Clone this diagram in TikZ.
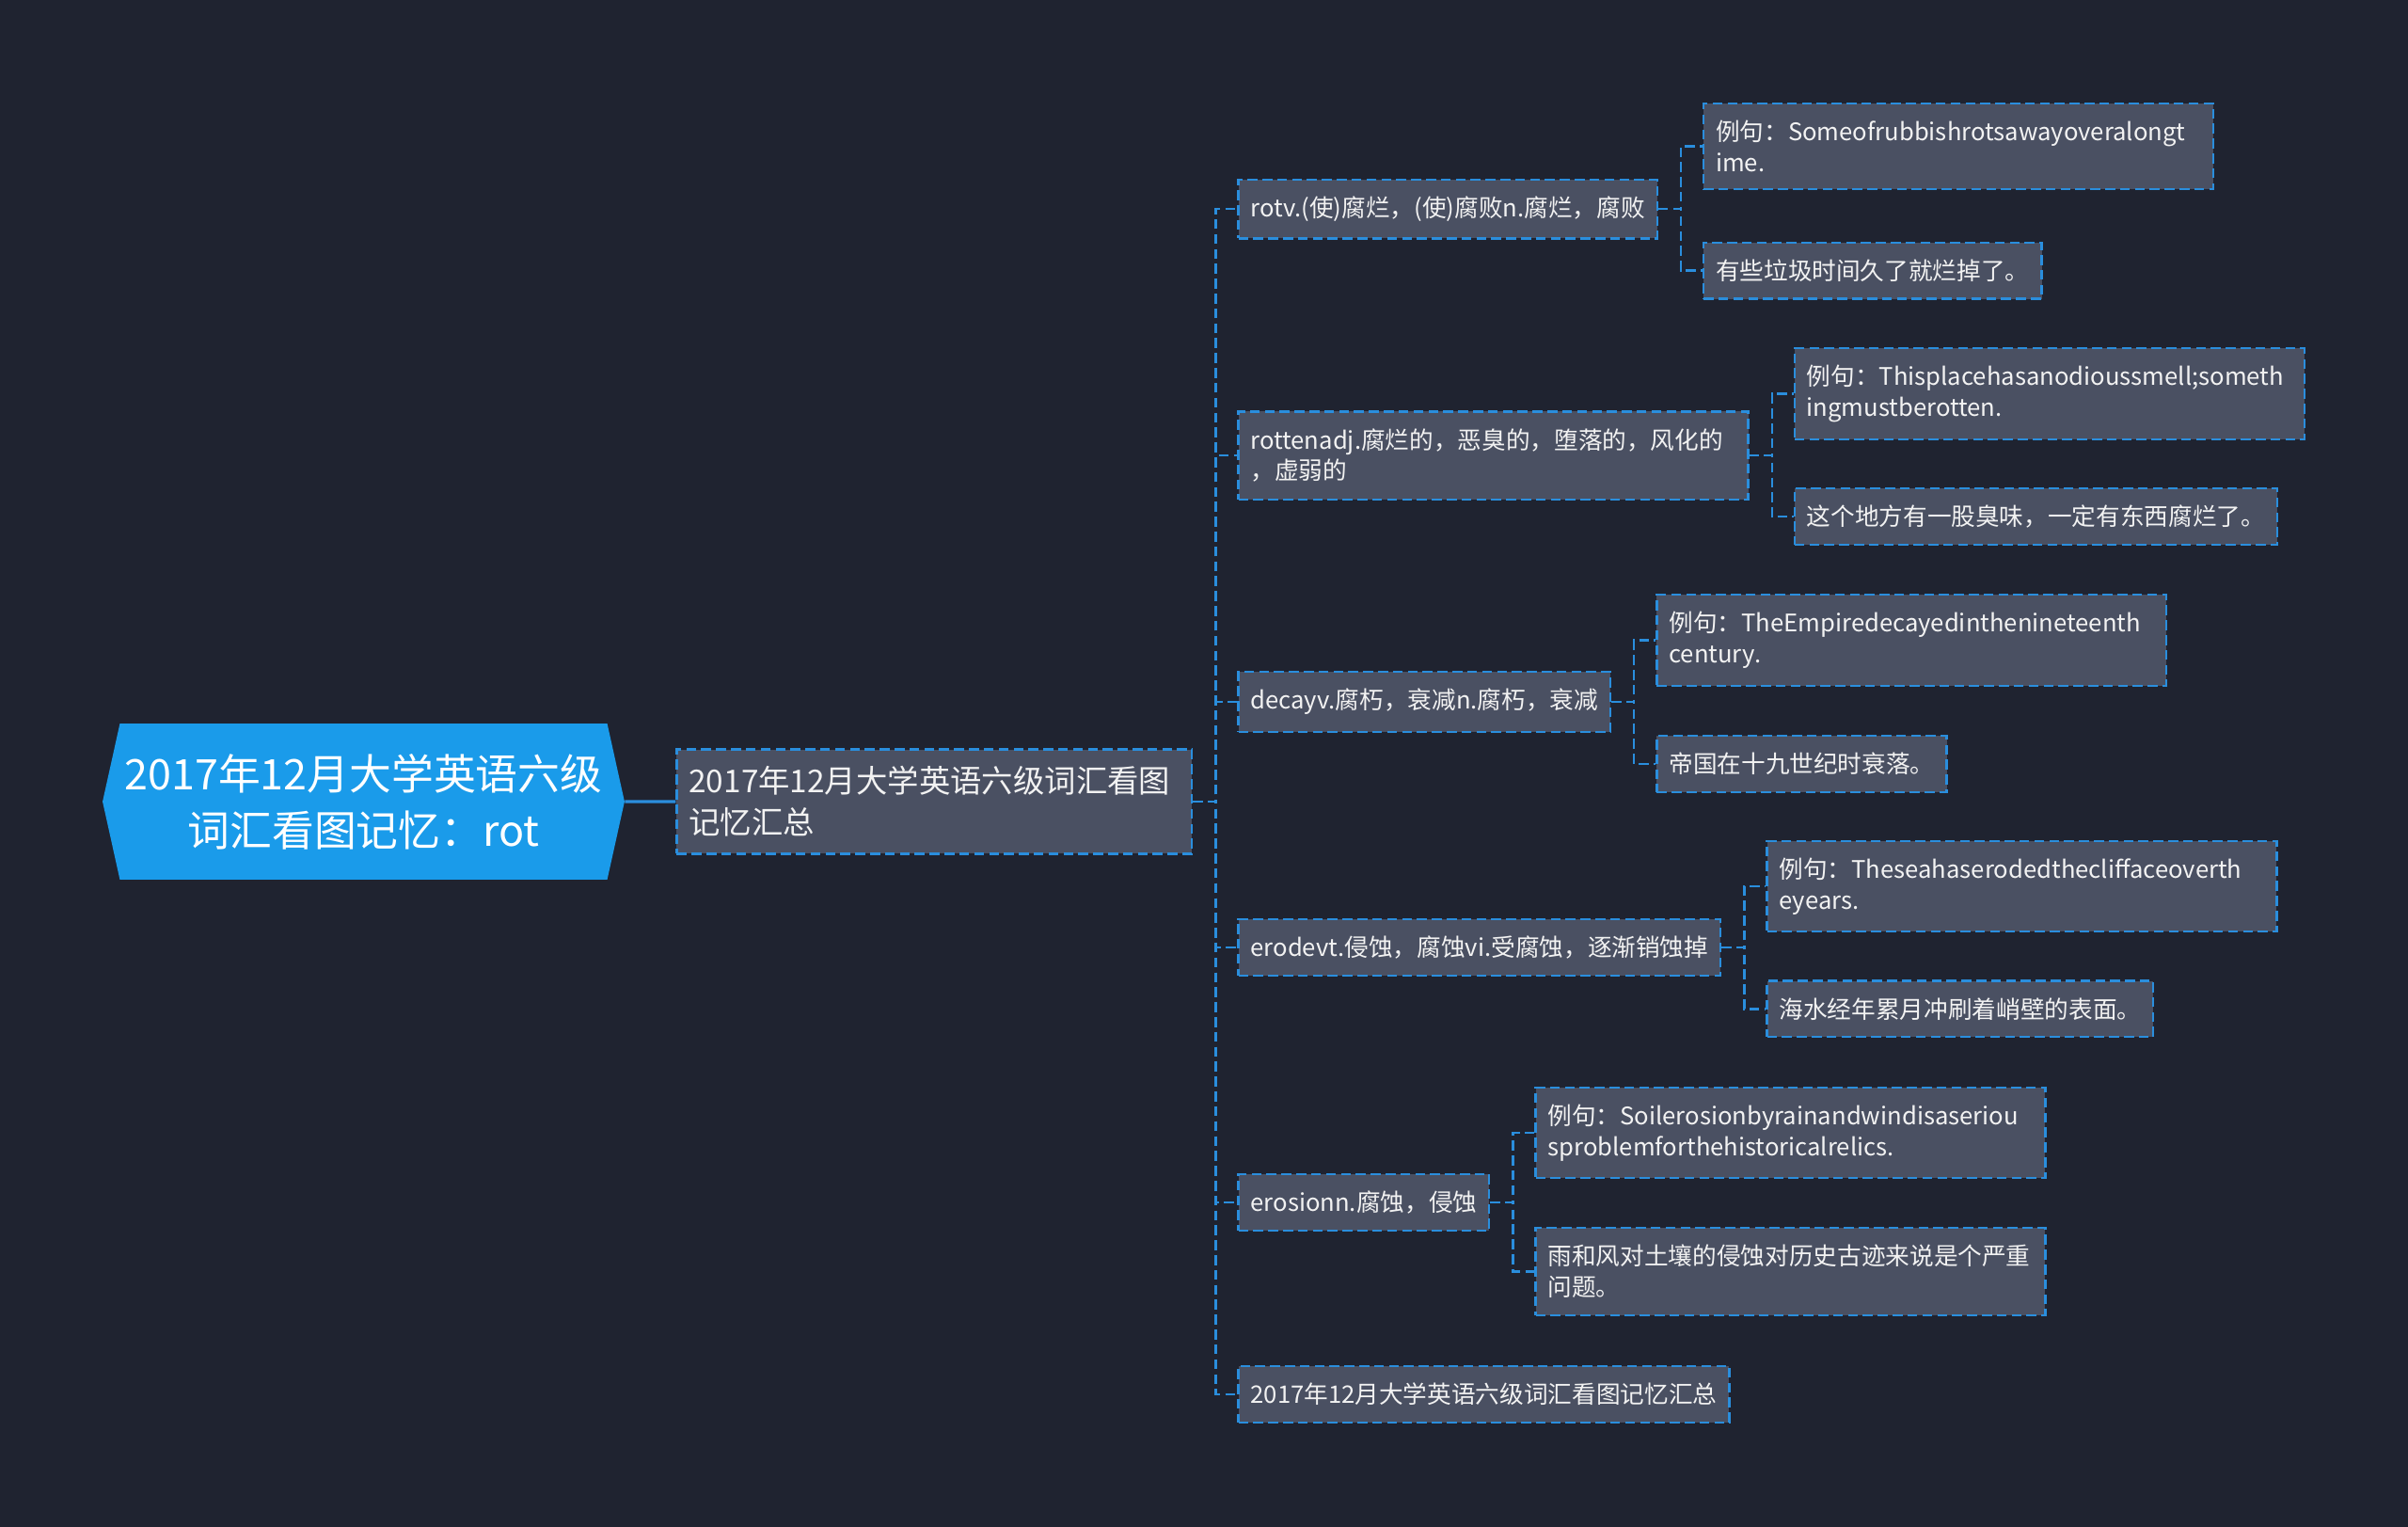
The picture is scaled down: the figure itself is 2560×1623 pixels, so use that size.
\documentclass[tikz,border=0pt]{standalone}
\usepackage{fontspec}
\setmainfont{Noto Sans CJK SC}
\usetikzlibrary{positioning, shapes.symbols}

\definecolor{bgdark}{HTML}{1F2330}
\definecolor{rootblue}{HTML}{1A9BEA}
\definecolor{boxgray}{HTML}{4A5062}
\definecolor{linkblue}{HTML}{2A8EDD}
\definecolor{textwhite}{HTML}{F2F2F2}

\begin{document}
\begin{tikzpicture}[
    x=0.02cm, y=-0.02cm,
    node distance=0.94cm,
    rootnode/.style={signal, signal to=west and east, signal pointer angle=155, fill=rootblue, text=white, align=center, minimum width=11.1cm, minimum height=3.32cm, inner sep=2pt, font=\fontsize{25.5}{34}\selectfont},
    box/.style={draw=linkblue, line width=1.3pt, dash pattern=on 6pt off 3pt, fill=boxgray, text=textwhite, inner xsep=0.26cm, inner ysep=0.36cm, align=left, font=\fontsize{14.6}{18.7}\selectfont},
    hubbox/.style={box, text width=10.44cm, font=\fontsize{19}{25}\selectfont},
    widebox/.style={box, text width=10.32cm},
    link/.style={linkblue, line width=1.3pt, dash pattern=on 6pt off 3pt},
    rootlink/.style={linkblue, line width=1.8pt}
]
\useasboundingbox[fill=bgdark] (0,0) rectangle (2560,1623);

\node[rootnode] (root) at (386.5,852) {2017年12月大学英语六级\\词汇看图记忆：rot};
\node[hubbox, right=1.08cm of root] (hub) {2017年12月大学英语六级词汇看图\\记忆汇总};
\coordinate[right=0.48cm of hub] (spine);

% words
\node[box, right=of hub, yshift=12.6cm] (rot) {rotv.(使)腐烂，(使)腐败n.腐烂，腐败};
\node[widebox, right=of hub, yshift=7.36cm] (rotten) {rottenadj.腐烂的，恶臭的，堕落的，风化的\\，虚弱的};
\node[box, right=of hub, yshift=2.12cm] (decay) {decayv.腐朽，衰减n.腐朽，衰减};
\node[box, right=of hub, yshift=-3.1cm] (erode) {erodevt.侵蚀，腐蚀vi.受腐蚀，逐渐销蚀掉};
\node[box, right=of hub, yshift=-8.52cm] (erosion) {erosionn.腐蚀，侵蚀};
\node[box, right=of hub, yshift=-12.6cm] (summary) {2017年12月大学英语六级词汇看图记忆汇总};

% examples
\node[widebox, right=of rot, yshift=1.33cm] (rotA) {例句：Someofrubbishrotsawayoveralongt\\ime.};
\node[box, right=of rot, yshift=-1.31cm] (rotB) {有些垃圾时间久了就烂掉了。};
\node[widebox, right=of rotten, yshift=1.31cm] (rottenA) {例句：Thisplacehasanodioussmell;someth\\ingmustberotten.};
\node[box, right=of rotten, yshift=-1.3cm] (rottenB) {这个地方有一股臭味，一定有东西腐烂了。};
\node[widebox, right=of decay, yshift=1.31cm] (decayA) {例句：TheEmpiredecayedinthenineteenth\\century.};
\node[box, right=of decay, yshift=-1.32cm] (decayB) {帝国在十九世纪时衰落。};
\node[widebox, right=of erode, yshift=1.3cm] (erodeA) {例句：Theseahaserodedthecliffaceoverth\\eyears.};
\node[box, right=of erode, yshift=-1.31cm] (erodeB) {海水经年累月冲刷着峭壁的表面。};
\node[widebox, right=of erosion, yshift=1.48cm] (erosionA) {例句：Soilerosionbyrainandwindisaseriou\\sproblemforthehistoricalrelics.};
\node[widebox, right=of erosion, yshift=-1.47cm] (erosionB) {雨和风对土壤的侵蚀对历史古迹来说是个严重\\问题。};

\coordinate[right=0.48cm of rot] (rotJ);
\coordinate[right=0.48cm of rotten] (rottenJ);
\coordinate[right=0.48cm of decay] (decayJ);
\coordinate[right=0.48cm of erode] (erodeJ);
\coordinate[right=0.48cm of erosion] (erosionJ);

\draw[rootlink] (root) -- (hub);
\foreach \w in {rot, rotten, decay, erode, erosion, summary}
    \draw[link] (hub.east) -- (spine) |- (\w.west);
\foreach \w in {rot, rotten, decay, erode, erosion} {
    \draw[link] (\w.east) -- (\w J) |- (\w A.west);
    \draw[link] (\w.east) -- (\w J) |- (\w B.west);
}
\end{tikzpicture}
\end{document}
